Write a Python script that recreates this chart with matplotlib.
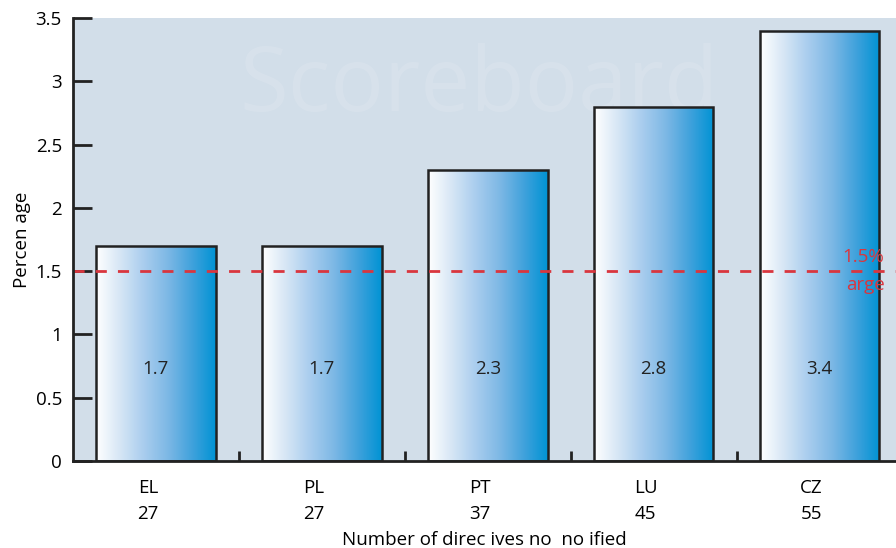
import numpy as np
import matplotlib.pyplot as plt
from matplotlib.colors import LinearSegmentedColormap
from matplotlib.patches import Rectangle
from matplotlib.transforms import ScaledTranslation

plt.rcParams['font.family'] = ['Open Sans', 'DejaVu Sans']

# Data
countries = ["EL", "PL", "PT", "LU", "CZ"]
directives = [27, 27, 37, 45, 55]
percentages = [1.7, 1.7, 2.3, 2.8, 3.4]
target = 1.5

bar_cmap = LinearSegmentedColormap.from_list(
    "bars", ["#ffffff", "#d6e6f5", "#a9cdee", "#7db8e5", "#41a2dc", "#0093d4"])

fig = plt.figure(figsize=(8.96, 5.48), dpi=100)
ax = fig.add_axes([73 / 896, 87 / 548, 823 / 896, 443 / 548])
ax.set_facecolor("#d2dee9")

x = np.arange(len(countries))
width = 0.72
fs = 13.5

# bars with horizontal gradient
grad = np.linspace(0, 1, 256).reshape(1, -1)
for xi, val in zip(x, percentages):
    rect = Rectangle((xi - width / 2, 0), width, val, facecolor="none",
                     edgecolor="#222222", linewidth=1.8, zorder=4)
    ax.add_patch(rect)
    im = ax.imshow(grad, cmap=bar_cmap, aspect="auto", zorder=3,
                   extent=(xi - width / 2, xi + width / 2, 0, val))
    im.set_clip_path(rect)
    ax.text(xi, 0.73, f"{val}", ha="center", va="center",
            fontsize=fs, color="#222222", zorder=5)

# faint watermark
ax.text(1.95, 2.95, "Scoreboard", ha="center", va="center", fontsize=64,
        color="#dbe4ed", alpha=0.6, zorder=1)

# target line
ax.axhline(target, color="#d9363e", linestyle=(0, (4, 4)), linewidth=2, zorder=6)
ax.text(4.39, 1.61, "1.5%", ha="right", va="center", fontsize=fs,
        color="#d9363e", zorder=6)
ax.text(4.39, 1.39, "arge", ha="right", va="center", fontsize=fs,
        color="#d9363e", zorder=6)

ax.set_xlim(-0.5, 4.46)
ax.set_ylim(0, 3.5)

# axes styling
for s in ["top", "right"]:
    ax.spines[s].set_visible(False)
for s in ["left", "bottom"]:
    ax.spines[s].set_linewidth(2)
    ax.spines[s].set_color("#222222")
    ax.spines[s].set_zorder(7)

ax.set_yticks([0, 0.5, 1, 1.5, 2, 2.5, 3, 3.5])
ax.set_yticklabels(["0", "0.5", "1", "1.5", "2", "2.5", "3", "3.5"])
ax.tick_params(axis="y", direction="in", length=14, width=2, color="#222222",
               labelsize=fs, pad=8)

ax.set_xticks(x[:-1] + 0.5)
ax.set_xticklabels([])
ax.set_xticks(x, minor=True)
ax.set_xticklabels([f"{c}\n{d}" for c, d in zip(countries, directives)],
                   minor=True, linespacing=1.55)
ax.tick_params(axis="x", which="major", direction="in", length=7, width=2,
               color="#222222")
ax.tick_params(axis="x", which="minor", length=0, labelsize=fs, pad=13)
for lbl in ax.get_xticklabels(minor=True):
    lbl.set_transform(lbl.get_transform() + ScaledTranslation(-8 / 100, 0, fig.dpi_scale_trans))

ax.set_ylabel("Percen age", fontsize=fs, labelpad=3)
ax.set_xlabel("Number of direc ives no  no ified", fontsize=fs, labelpad=6)

plt.savefig("out.png", dpi=100)
